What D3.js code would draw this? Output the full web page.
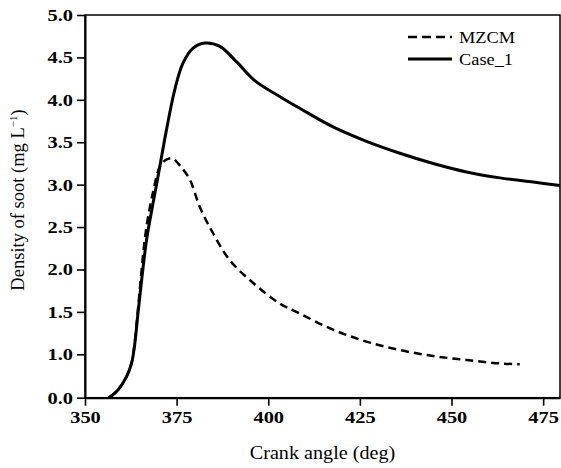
<!DOCTYPE html>
<html>
<head>
<meta charset="utf-8">
<script src="https://cdn.jsdelivr.net/npm/d3@7/dist/d3.min.js"></script>
<style>
  body { margin: 0; background: #fff; }
  svg { display: block; }
  .axis path, .axis line { stroke: #000; }
  .axis text { font-family: "Liberation Serif", serif; font-weight: bold; font-size: 17px; fill: #000; }
</style>
</head>
<body>
<div class="soot-chart"></div>
<script>
// crank angle (deg) vs soot density (mg/L)
var crankCase1 = [356.5, 359, 361.3, 362.7, 363.6, 364.5, 366.8, 368.3, 369.9, 372.2, 374.5, 376.7, 379.5, 382.7, 386.8, 391.3, 396.5, 403.1, 408.6, 417.7, 426.8, 435.9, 445, 454.1, 463.2, 472.3, 479.6];
var case1 = [0, 0.18, 0.48, 0.79, 1.13, 1.5, 2.35, 2.72, 3.09, 3.64, 4.12, 4.43, 4.61, 4.67, 4.63, 4.45, 4.22, 4.04, 3.9, 3.68, 3.51, 3.37, 3.25, 3.15, 3.08, 3.03, 2.99];

var crankMzcm = [356.5, 359, 361.3, 362.7, 363.6, 364.5, 366.6, 368.6, 370.4, 372, 373.8, 376, 378.6, 381.3, 384.9, 389.5, 395.9, 403.1, 408.6, 417.7, 426.8, 435.9, 445, 454.1, 463.2, 468.6];
var mzcm = [0, 0.18, 0.48, 0.8, 1.15, 1.55, 2.45, 2.92, 3.21, 3.29, 3.31, 3.22, 3.06, 2.74, 2.43, 2.11, 1.84, 1.6, 1.48, 1.29, 1.15, 1.05, 0.96, 0.87, 0.79, 0.77];

var xTicks = [350, 375, 400, 425, 450, 475];
// the original axis skips 0.5: 0.0 sits one half-step below 1.0
var yTicks = [0, 1, 1.5, 2, 2.5, 3, 3.5, 4, 4.5, 5];
var legendNames = ["MZCM", "Case_1"];

(function () {
  var width = 561,
    height = 468;
  var plotLeft = 85, plotRight = 560, plotTop = 15, plotBottom = 397.7;

  var svg = d3.select(".soot-chart")
    .append("svg")
    .attr("width", width)
    .attr("height", height);

  var x = d3.scaleLinear().domain([350, 479.6]).range([plotLeft, plotRight]);
  var y = d3.scaleLinear().domain([0, 1, 5]).range([plotBottom, plotBottom - 43.4, plotTop]);

  // frame
  svg.append("rect")
    .attr("x", plotLeft).attr("y", plotTop)
    .attr("width", plotRight - plotLeft).attr("height", plotBottom - plotTop)
    .attr("fill", "none").attr("stroke", "#000").attr("stroke-width", 1.5);

  svg.append("g")
    .attr("class", "axis")
    .attr("transform", "translate(0," + plotBottom + ")")
    .call(d3.axisBottom(x).tickValues(xTicks).tickSize(8).tickPadding(5).tickSizeOuter(0))
    .selectAll("text")
    .attr("transform", "scale(1.2,1)");

  svg.append("g")
    .attr("class", "axis")
    .attr("transform", "translate(" + plotLeft + ",0)")
    .call(d3.axisLeft(y).tickValues(yTicks).tickFormat(d3.format(".1f")).tickSize(8).tickPadding(2).tickSizeOuter(0))
    .selectAll("text")
    .attr("transform", "scale(1.2,1)");

  svg.selectAll(".axis path").attr("stroke-width", 2);
  svg.selectAll(".axis line").attr("stroke-width", 1.6);

  var line = d3.line()
    .x(function (d) { return x(d[0]); })
    .y(function (d) { return y(d[1]); })
    .curve(d3.curveCatmullRom.alpha(0.5));

  svg.append("path")
    .datum(d3.zip(crankMzcm, mzcm))
    .attr("d", line)
    .attr("fill", "none")
    .attr("stroke", "#000")
    .attr("stroke-width", 2.5)
    .attr("stroke-dasharray", "8,5");

  svg.append("path")
    .datum(d3.zip(crankCase1, case1))
    .attr("d", line)
    .attr("fill", "none")
    .attr("stroke", "#000")
    .attr("stroke-width", 3);

  // legend
  var legend = svg.append("g").attr("class", "legend");
  legendNames.forEach(function (name, i) {
    var ly = 37 + i * 22;
    legend.append("line")
      .attr("x1", 408).attr("x2", 452)
      .attr("y1", ly).attr("y2", ly)
      .attr("stroke", "#000")
      .attr("stroke-width", i === 0 ? 2.5 : 3)
      .attr("stroke-dasharray", i === 0 ? "9,5" : null);
    legend.append("text")
      .attr("transform", "translate(459," + (ly + 6) + ") scale(1.08,1)")
      .attr("font-family", "Liberation Serif, serif")
      .attr("font-size", 17)
      .text(name);
  });

  // axis titles
  svg.append("text")
    .attr("transform", "translate(" + (plotLeft + plotRight) / 2 + ",459) scale(1.12,1)")
    .attr("text-anchor", "middle")
    .attr("font-family", "Liberation Serif, serif")
    .attr("font-size", 18)
    .text("Crank angle (deg)");

  var yTitle = svg.append("text")
    .attr("transform", "translate(24,200) rotate(-90)")
    .attr("text-anchor", "middle")
    .attr("font-family", "Liberation Serif, serif")
    .attr("font-size", 18.5);
  yTitle.append("tspan").text("Density of soot (mg L");
  yTitle.append("tspan").attr("dy", -7).attr("font-size", 11).text("\u22121");
  yTitle.append("tspan").attr("dy", 7).text(")");
})();
</script>
</body>
</html>
